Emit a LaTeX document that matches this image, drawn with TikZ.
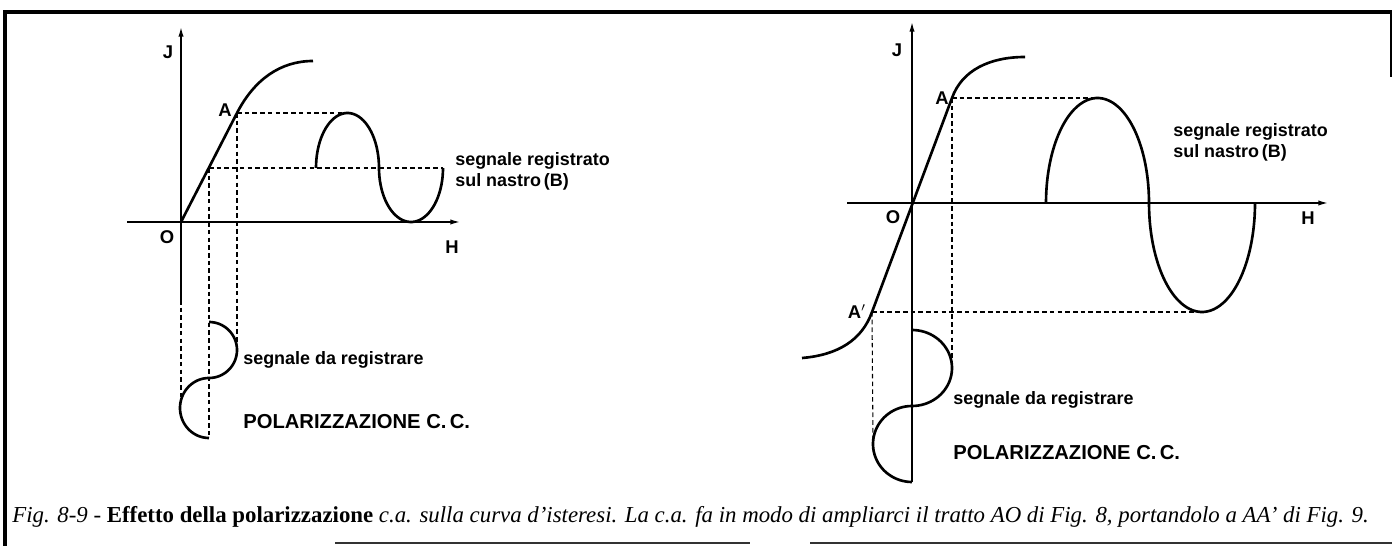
\documentclass[tikz,border=0pt]{standalone}
\usepackage{fontspec}
\setmainfont{Liberation Serif}
\newfontfamily\labelfont{Liberation Sans}
\usetikzlibrary{arrows.meta}

\begin{document}
\begin{tikzpicture}[
    x={(0.02cm,0)}, y={(0,-0.02cm)},
    frame/.style={line width=2.4pt},
    axis/.style={line width=0.8pt, -{Latex[length=5.5pt, width=3pt]}},
    curve/.style={line width=1.5pt},
    proj/.style={line width=0.6pt, dash pattern=on 2.6pt off 1.8pt},
    lbl/.style={font=\labelfont\bfseries\fontsize{10.5}{12}\selectfont, inner sep=0pt},
    note/.style={font=\labelfont\bfseries\fontsize{10.2}{12}\selectfont, inner sep=0pt, anchor=west, align=left},
    head/.style={font=\labelfont\bfseries\fontsize{11.5}{13}\selectfont, inner sep=0pt, anchor=west}
]
\useasboundingbox (0,0) rectangle (1392,546);

% frame of the page
\draw[frame] (5,546) -- (5,12) -- (1392,12);
\draw[line width=0.6pt] (1391,12) -- (1391,77);
\draw[line width=1pt, black!80] (335,543) -- (750,543);
\draw[line width=1pt, black!80] (810,543) -- (1392,543);

% ---- Fig. 8 : polarizzazione c.c.
\coordinate (o1) at (181,222);
\coordinate (a1) at (237,113);
\coordinate (b1) at (209,168);
\coordinate (jtip1) at (181,27);
\coordinate (htip1) at (460,222);

\draw[axis] (181,300) -- (jtip1);
\draw[axis] (127,222) -- (htip1);
\draw[proj] (181,300) -- (181,400);
\draw[curve] (o1) -- (a1) .. controls (254,80) and (280,61) .. (313,61);

\draw[proj] (a1) -- (345,113);
\draw[proj] (b1) -- (443,168);
\draw[proj] (a1) -- (237,352);
\draw[proj] (b1) -- (209,438);

% registered signal
\draw[curve] plot[domain=180:0, samples=40, smooth] ({347.5+31.5*cos(\x)},{168-55*sin(\x)})
    -- plot[domain=180:360, samples=40, smooth] ({411+32*cos(\x)},{168-54*sin(\x)});
% signal to register
\draw[curve] plot[domain=0:180, samples=40, smooth] ({209+28*sin(\x)},{350-28*cos(\x)})
    -- plot[domain=0:180, samples=40, smooth] ({209-29*sin(\x)},{408-30*cos(\x)});

\node[lbl] (j1) at (168,52) {J};
\node[lbl] (ol1) at (167,237) {O};
\node[lbl] (h1) at (452,247) {H};
\node[lbl] (al1) at (225,110) {A};
\node[note] (reg1) at (455,171) {segnale registrato\\sul nastro\,(B)};
\node[note] (sig1) at (243,360) {segnale da registrare};
\node[head] (pol1) at (243,422) {POLARIZZAZIONE C.\,C.};

% ---- Fig. 9 : polarizzazione c.a.
\coordinate (o2) at (912,203);
\coordinate (a2) at (952,98);
\coordinate (a2p) at (872,312);
\coordinate (jtip2) at (912,22);
\coordinate (htip2) at (1328,203);

\draw[axis] (912,482) -- (jtip2);
\draw[axis] (847,203) -- (htip2);
\draw[curve] (802,358) .. controls (838,355) and (862,340) .. (a2p) -- (a2)
    .. controls (962,70) and (990,57) .. (1025,57);

\draw[proj] (a2) -- (1097,98);
\draw[proj] (a2p) -- (1205,312);
\draw[proj] (a2) -- (952,366);
\draw[proj] (a2p) -- (873,442);

% registered signal
\draw[curve] plot[domain=180:0, samples=50, smooth] ({1097.5+51.5*cos(\x)},{203-105*sin(\x)})
    -- plot[domain=180:360, samples=50, smooth] ({1202+53*cos(\x)},{203-109*sin(\x)});
% signal to register
\draw[curve] plot[domain=0:180, samples=40, smooth] ({912+40*sin(\x)},{368-38*cos(\x)})
    -- plot[domain=0:180, samples=40, smooth] ({912-39*sin(\x)},{444-38*cos(\x)});

\node[lbl] (j2) at (897,50) {J};
\node[lbl] (ol2) at (893,217) {O};
\node[lbl] (h2) at (1308,218) {H};
\node[lbl] (al2) at (942,98) {A};
\node[lbl] (alp2) at (857,312) {A$'$};
\node[note] (reg2) at (1173,142) {segnale registrato\\sul nastro\,(B)};
\node[note] (sig2) at (953,400) {segnale da registrare};
\node[head] (pol2) at (953,453) {POLARIZZAZIONE C.\,C.};

% caption
\node[anchor=west, inner sep=0pt, font=\fontsize{13}{15}\selectfont] (cap) at (12,517)
    {\textit{Fig. 8-9 -} \textbf{Effetto della polarizzazione} \textit{c.a. sulla curva d'isteresi. La c.a. fa in modo di ampliarci il tratto AO di Fig. 8, portandolo a AA' di Fig. 9.}};
\end{tikzpicture}
\end{document}
